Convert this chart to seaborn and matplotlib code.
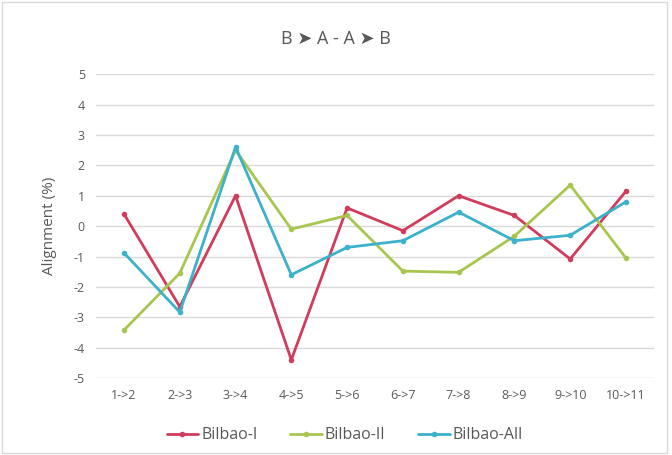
import matplotlib
matplotlib.use("Agg")
import matplotlib.pyplot as plt
import seaborn as sns
import pandas as pd
from matplotlib.patches import Rectangle

# Transition steps along the x axis
steps = ["1->2", "2->3", "3->4", "4->5", "5->6", "6->7", "7->8", "8->9", "9->10", "10->11"]

# Alignment (%) per transition for each dataset
bilbao_i = [0.4, -2.65, 1.0, -4.4, 0.6, -0.15, 1.0, 0.35, -1.08, 1.15]
bilbao_ii = [-3.42, -1.55, 2.5, -0.1, 0.35, -1.48, -1.52, -0.33, 1.35, -1.05]
bilbao_all = [-0.88, -2.83, 2.6, -1.6, -0.7, -0.48, 0.46, -0.48, -0.3, 0.8]

series_names = ["Bilbao-I", "Bilbao-II", "Bilbao-All"]
colors = ["#d23c5c", "#a8c64e", "#3cb1cb"]

df = pd.concat([
    pd.DataFrame({"step": range(len(steps)), "value": vals, "series": name})
    for name, vals in zip(series_names, [bilbao_i, bilbao_ii, bilbao_all])
])

sns.set_theme(style="white")
plt.rcParams["font.family"] = ["Open Sans", "DejaVu Sans"]
plt.rcParams["axes.unicode_minus"] = False

text_color = "#595959"

fig = plt.figure(figsize=(6.72, 4.55), dpi=100)
ax = fig.add_axes([0.143, 0.169, 0.830, 0.668])

sns.lineplot(data=df, x="step", y="value", hue="series", hue_order=series_names,
             palette=colors, marker="o", markersize=4, markeredgewidth=0,
             linewidth=2, ax=ax, legend=True)

ax.set_xlim(-0.5, len(steps) - 0.5)
ax.set_ylim(-5, 5)
ax.set_yticks(range(-5, 6))
ax.set_xticks(range(len(steps)))
ax.set_xticklabels(steps)
ax.tick_params(axis="both", length=0, labelsize=9, labelcolor=text_color, pad=8)
ax.set_xlabel("")
ax.set_ylabel("Alignment (%)", fontsize=11, color=text_color, labelpad=12)
ax.grid(axis="y", color="#d9d9d9", linewidth=1)
ax.set_axisbelow(True)
for s in ax.spines.values():
    s.set_visible(False)

fig.text(0.5, 0.915, "B \u27a4 A - A \u27a4 B", fontsize=13, color=text_color,
         ha="center", va="center")

handles, labels = ax.get_legend_handles_labels()
ax.get_legend().remove()
leg = fig.legend(handles, labels, loc="center", bbox_to_anchor=(0.513, 0.043),
                 ncol=3, frameon=False, fontsize=11.5, handlelength=2.0,
                 handletextpad=0.2, columnspacing=2.0)
for t in leg.get_texts():
    t.set_color(text_color)

# Chart-area border
fig.patches.append(Rectangle((0.003, 0.005), 0.99, 0.99, transform=fig.transFigure,
                             fill=False, edgecolor="#d9d9d9", linewidth=1))

fig.savefig("out.png", dpi=100)
